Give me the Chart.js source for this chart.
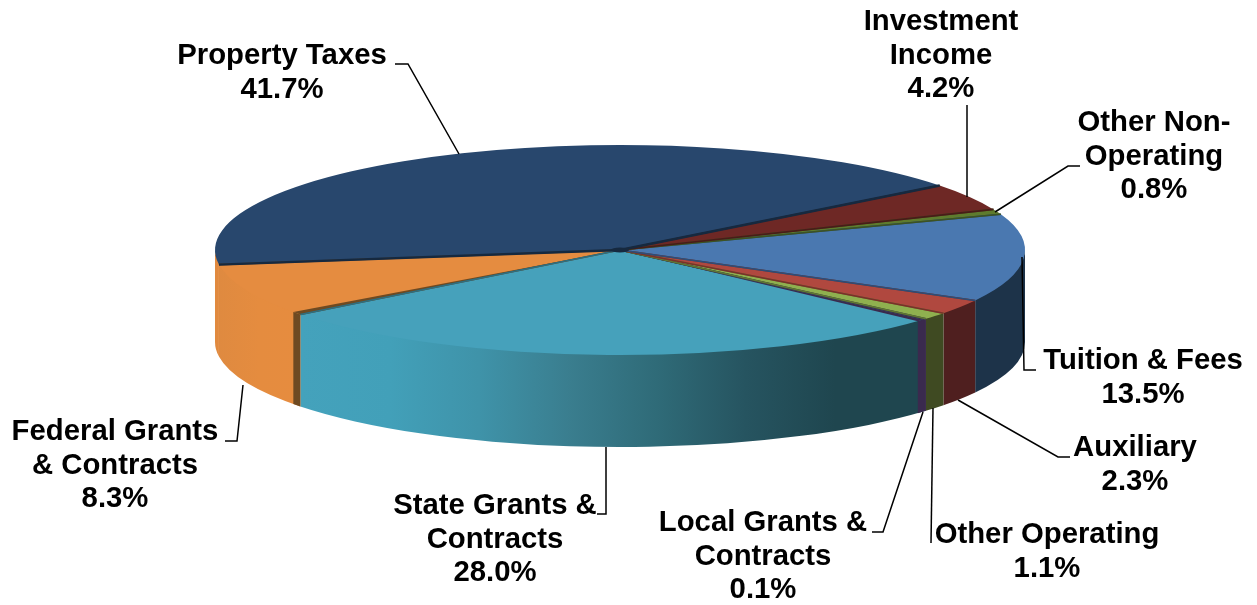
<!DOCTYPE html>
<html>
<head>
<meta charset="utf-8">
<style>html,body{margin:0;padding:0;background:#fff}canvas{display:block}</style>
<script src="https://cdn.jsdelivr.net/npm/chart.js@4"></script>
</head>
<body>
<canvas id="c" width="1257" height="605"></canvas>
<script>
const categories = ["Property Taxes","Investment Income","Other Non-Operating","Tuition & Fees","Auxiliary","Other Operating","Local Grants & Contracts","State Grants & Contracts","Federal Grants & Contracts"];
const shares = [41.7,4.2,0.8,13.5,2.3,1.1,0.1,28.0,8.3];
const labelLines = [["Property Taxes"],["Investment","Income"],["Other Non-","Operating"],["Tuition & Fees"],["Auxiliary"],["Other Operating"],["Local Grants &","Contracts"],["State Grants &","Contracts"],["Federal Grants","& Contracts"]];
const topColors = ["#28476d","#6e2825","#5e7b2e","#4a78b0","#b0483f","#8fb04f","#5a4478","#46a1bb","#e58c40"];
const edgeColors = ["#16293f","#4a1b19","#3e5420","#2d4e78","#7c2f2a","#5f7a32","#3a2a4e","#2c6f82","#6e4a22"];
const wallStops = [["#e18a3f"],["#4f1f1f"],["#3f4a22"],["#1d3349"],["#4f1f1f"],["#3f4a22"],["#3a2a4e"],
  ["#44a2bc","#42a0b9","#3f93a9","#3a7e8f","#2f6b78","#265460","#1f464f","#1f464f"],["#df8a40","#e58c3f","#e68c3f"]];

// drawing geometry
const RX = 405, RY = 105, DEPTH = 92;
const cuts = [{slice:8,width:7,color:"#6e4a22"},{slice:6,width:8,color:"#3a2a4e"}];
const FONT = 'bold 29.3px "Liberation Sans", Arial, sans-serif', LH = 33.7;
const textAnchors = [[282,56],[941,22],[1154,123],[1143,361],[1135,448],[1047,535],[763,523],[495,506],[115,432]];
const leaders = [
 [[395,64],[408,64],[459,154]],
 [[967,105],[967,197]],
 [[1080,166],[1068,166],[995,212]],
 [[1022,257],[1024,370],[1036,370]],
 [[958,400],[1058,457],[1070,457]],
 [[933,408],[931,543]],
 [[923,412],[883,532],[872,532]],
 [[606,447],[606,514],[597,514]],
 [[243,385],[237,441],[225,441]]
];

const pie3d = {
  id:'pie3d',
  beforeDatasetsDraw(chart){
    const ctx = chart.ctx, arcs = chart.getDatasetMeta(0).data;
    const cx = arcs[0].x, cy = arcs[0].y, r = arcs[0].outerRadius;
    // side walls, front half only; upper rim tucked under the top face
    arcs.forEach((a,i)=>{
      for(let k=0;k<3;k++){
        const lo=Math.max(a.startAngle,2*Math.PI*k), hi=Math.min(a.endAngle,2*Math.PI*k+Math.PI);
        if(hi<=lo) continue;
        const x1=cx+RX*Math.cos(lo), x2=cx+RX*Math.cos(hi);
        const g=ctx.createLinearGradient(Math.min(x1,x2),0,Math.max(x1,x2),0);
        const st=wallStops[i];
        if(st.length===1){g.addColorStop(0,st[0]);g.addColorStop(1,st[0]);}
        else st.forEach((c,j)=>g.addColorStop(j/(st.length-1),c));
        ctx.beginPath();
        ctx.ellipse(cx,cy-2,RX,RY,0,lo,hi);
        ctx.ellipse(cx,cy+DEPTH,RX,RY,0,hi,lo,true);
        ctx.closePath();
        ctx.fillStyle=g; ctx.fill();
      }
    });
    // flatten the library's pie into the tilted top face
    ctx.save();
    ctx.translate(cx,cy);
    ctx.scale(RX/r,RY/r);
    ctx.translate(-cx,-cy);
  },
  afterDatasetsDraw(chart){
    const ctx = chart.ctx, arcs = chart.getDatasetMeta(0).data;
    ctx.restore();
    const cx = arcs[0].x, cy = arcs[0].y;
    const rim = t=>[cx+RX*Math.cos(t),cy+RY*Math.sin(t)];
    // cut faces
    cuts.forEach(c=>{
      const [x,y]=rim(arcs[c.slice].startAngle);
      const xl=x-c.width, yl=cy+RY*Math.sqrt(Math.max(0,1-((xl-cx)/RX)**2));
      ctx.fillStyle=c.color;
      ctx.beginPath();ctx.moveTo(xl,yl);ctx.lineTo(x,y);ctx.lineTo(x,y+DEPTH);ctx.lineTo(xl,yl+DEPTH);ctx.closePath();ctx.fill();
      ctx.beginPath();ctx.moveTo(cx,cy);ctx.lineTo(x,y);ctx.lineTo(xl,yl);ctx.closePath();ctx.fill();
    });
    // shaded slice edges
    for(let i=arcs.length-1;i>=0;i--){
      const a=arcs[i];
      ctx.lineWidth=i===0?2.4:1.6;
      ctx.strokeStyle=edgeColors[i];
      [a.startAngle,a.endAngle].forEach(t=>{
        const [x,y]=rim(t);
        ctx.beginPath();ctx.moveTo(cx,cy);ctx.lineTo(x,y);ctx.stroke();
      });
    }
    ctx.fillStyle="#16293f";
    ctx.beginPath();ctx.ellipse(cx,cy,9,2.5,0,0,Math.PI*2);ctx.fill();
  },
  afterDraw(chart){
    const ctx = chart.ctx;
    ctx.save();
    ctx.strokeStyle="#000";ctx.lineWidth=1.5;
    leaders.forEach(l=>{
      ctx.beginPath();
      l.forEach((p,i)=>i?ctx.lineTo(p[0],p[1]):ctx.moveTo(p[0],p[1]));
      ctx.stroke();
    });
    ctx.fillStyle="#000";ctx.font=FONT;ctx.textAlign="center";ctx.textBaseline="middle";
    labelLines.forEach((lines,i)=>{
      const all=lines.concat([shares[i].toFixed(1)+"%"]);
      all.forEach((t,j)=>ctx.fillText(t,textAnchors[i][0],textAnchors[i][1]+j*LH));
    });
    ctx.restore();
  }
};

new Chart(document.getElementById('c'),{
  type:'pie',
  data:{labels:categories,datasets:[{data:shares,backgroundColor:topColors,borderWidth:0}]},
  options:{
    responsive:false,animation:false,rotation:262,
    layout:{padding:{left:0,top:0,right:17,bottom:105}},
    plugins:{legend:{display:false},tooltip:{enabled:false}}
  },
  plugins:[pie3d]
});
</script>
</body>
</html>
